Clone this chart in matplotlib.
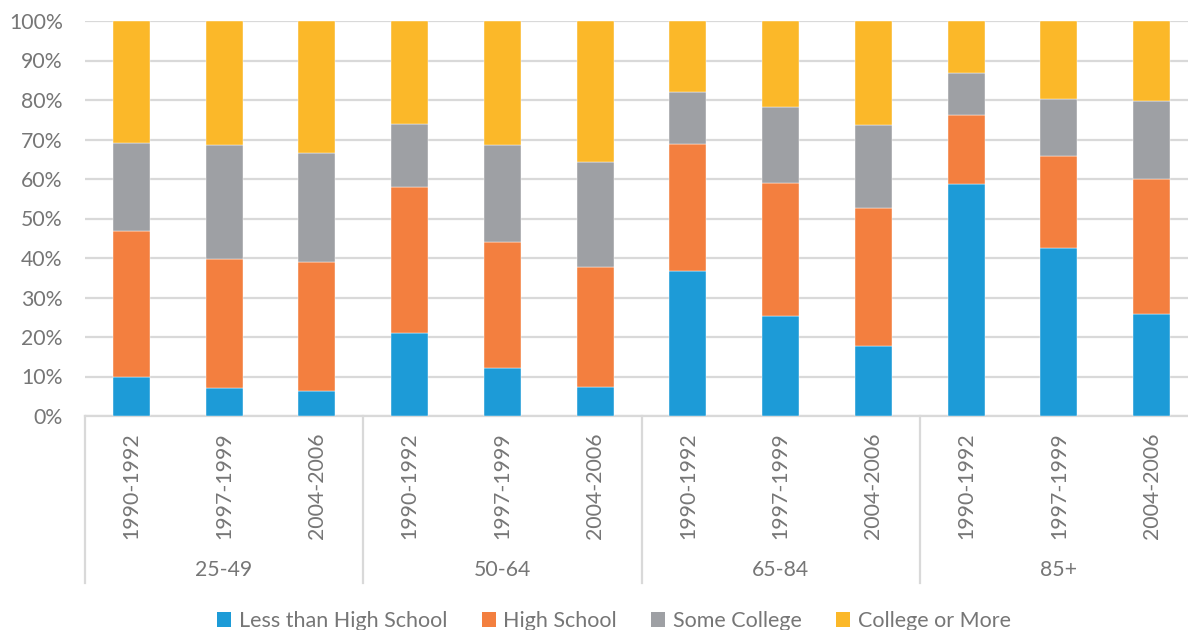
import matplotlib.pyplot as plt
from matplotlib.patches import Patch
from matplotlib.transforms import blended_transform_factory

# 年龄组与调查时段
age_groups = ['25-49', '50-64', '65-84', '85+']
periods = ['1990-1992', '1997-1999', '2004-2006']

# 各教育程度占比（%），按 年龄组 x 时段 顺序排列
less_than_hs = [10.0, 7.2, 6.4, 21.1, 12.1, 7.4, 36.6, 25.4, 17.8, 58.8, 42.6, 25.9]
high_school = [36.9, 32.6, 32.6, 36.9, 32.0, 30.4, 32.3, 33.7, 34.8, 17.5, 23.3, 34.1]
some_college = [22.3, 28.8, 27.7, 15.9, 24.5, 26.5, 13.2, 19.2, 21.1, 10.5, 14.4, 19.7]
college_more = [30.8, 31.4, 33.3, 26.1, 31.4, 35.7, 17.9, 21.7, 26.3, 13.2, 19.7, 20.3]

series_names = ['Less than High School', 'High School', 'Some College', 'College or More']
colors = ['#1d9bd7', '#f37f3f', '#9ea0a4', '#fbb829']
text_color = '#767676'
grid_color = '#d9d9d9'

plt.rcParams['font.family'] = ['Lato', 'DejaVu Sans']

fig = plt.figure(figsize=(11.88, 6.3), dpi=100)
# 绘图区右边缘超出画布一点
ax = fig.add_axes([85 / 1188, 1 - 416 / 630, 1113 / 1188, 395 / 630])

labels = periods * len(age_groups)
x = list(range(len(labels)))

# 堆叠柱状图
bottom = [0.0] * len(x)
for name, vals, c in zip(series_names,
                         [less_than_hs, high_school, some_college, college_more],
                         colors):
    ax.bar(x, vals, bottom=bottom, width=0.4, color=c, edgecolor='white',
           linewidth=0.3, zorder=3)
    bottom = [b + v for b, v in zip(bottom, vals)]

ax.set_xlim(-0.5, len(x) - 0.5)
ax.set_ylim(0, 100)
ax.set_yticks(range(0, 101, 10))
ax.set_yticklabels([f'{v}%' for v in range(0, 101, 10)])
ax.yaxis.grid(True, color=grid_color, linewidth=1.6, zorder=0)
ax.set_axisbelow(True)

for s in ['top', 'right', 'left']:
    ax.spines[s].set_visible(False)
ax.spines['bottom'].set_color(grid_color)
ax.spines['bottom'].set_linewidth(1.6)

ax.set_xticks(x)
ax.set_xticklabels(labels, rotation=90, va='top')
ax.tick_params(axis='x', length=0, pad=12, labelsize=15.3, labelcolor=text_color)
ax.tick_params(axis='y', length=0, pad=16, labelsize=15.3, labelcolor=text_color)

# 年龄组分隔线与组标签
trans = blended_transform_factory(ax.transData, ax.transAxes)
for k in range(len(age_groups) + 1):
    xs = k * len(periods) - 0.5
    ax.plot([xs, xs], [0, -0.423], color=grid_color, linewidth=1.6,
            transform=trans, clip_on=False)
for k, g in enumerate(age_groups):
    ax.text(k * len(periods) + 1, -0.39, g, transform=trans, ha='center',
            va='center', fontsize=15.3, color=text_color)

handles = [Patch(facecolor=c, label=n) for n, c in zip(series_names, colors)]
fig.legend(handles=handles, loc='center', bbox_to_anchor=(614 / 1188, 1 - 621 / 630),
           ncol=4, frameon=False, fontsize=15.5, labelcolor=text_color,
           handlelength=0.65, handleheight=0.65, handletextpad=0.35,
           columnspacing=1.6)

fig.savefig('out.png', dpi=100)
